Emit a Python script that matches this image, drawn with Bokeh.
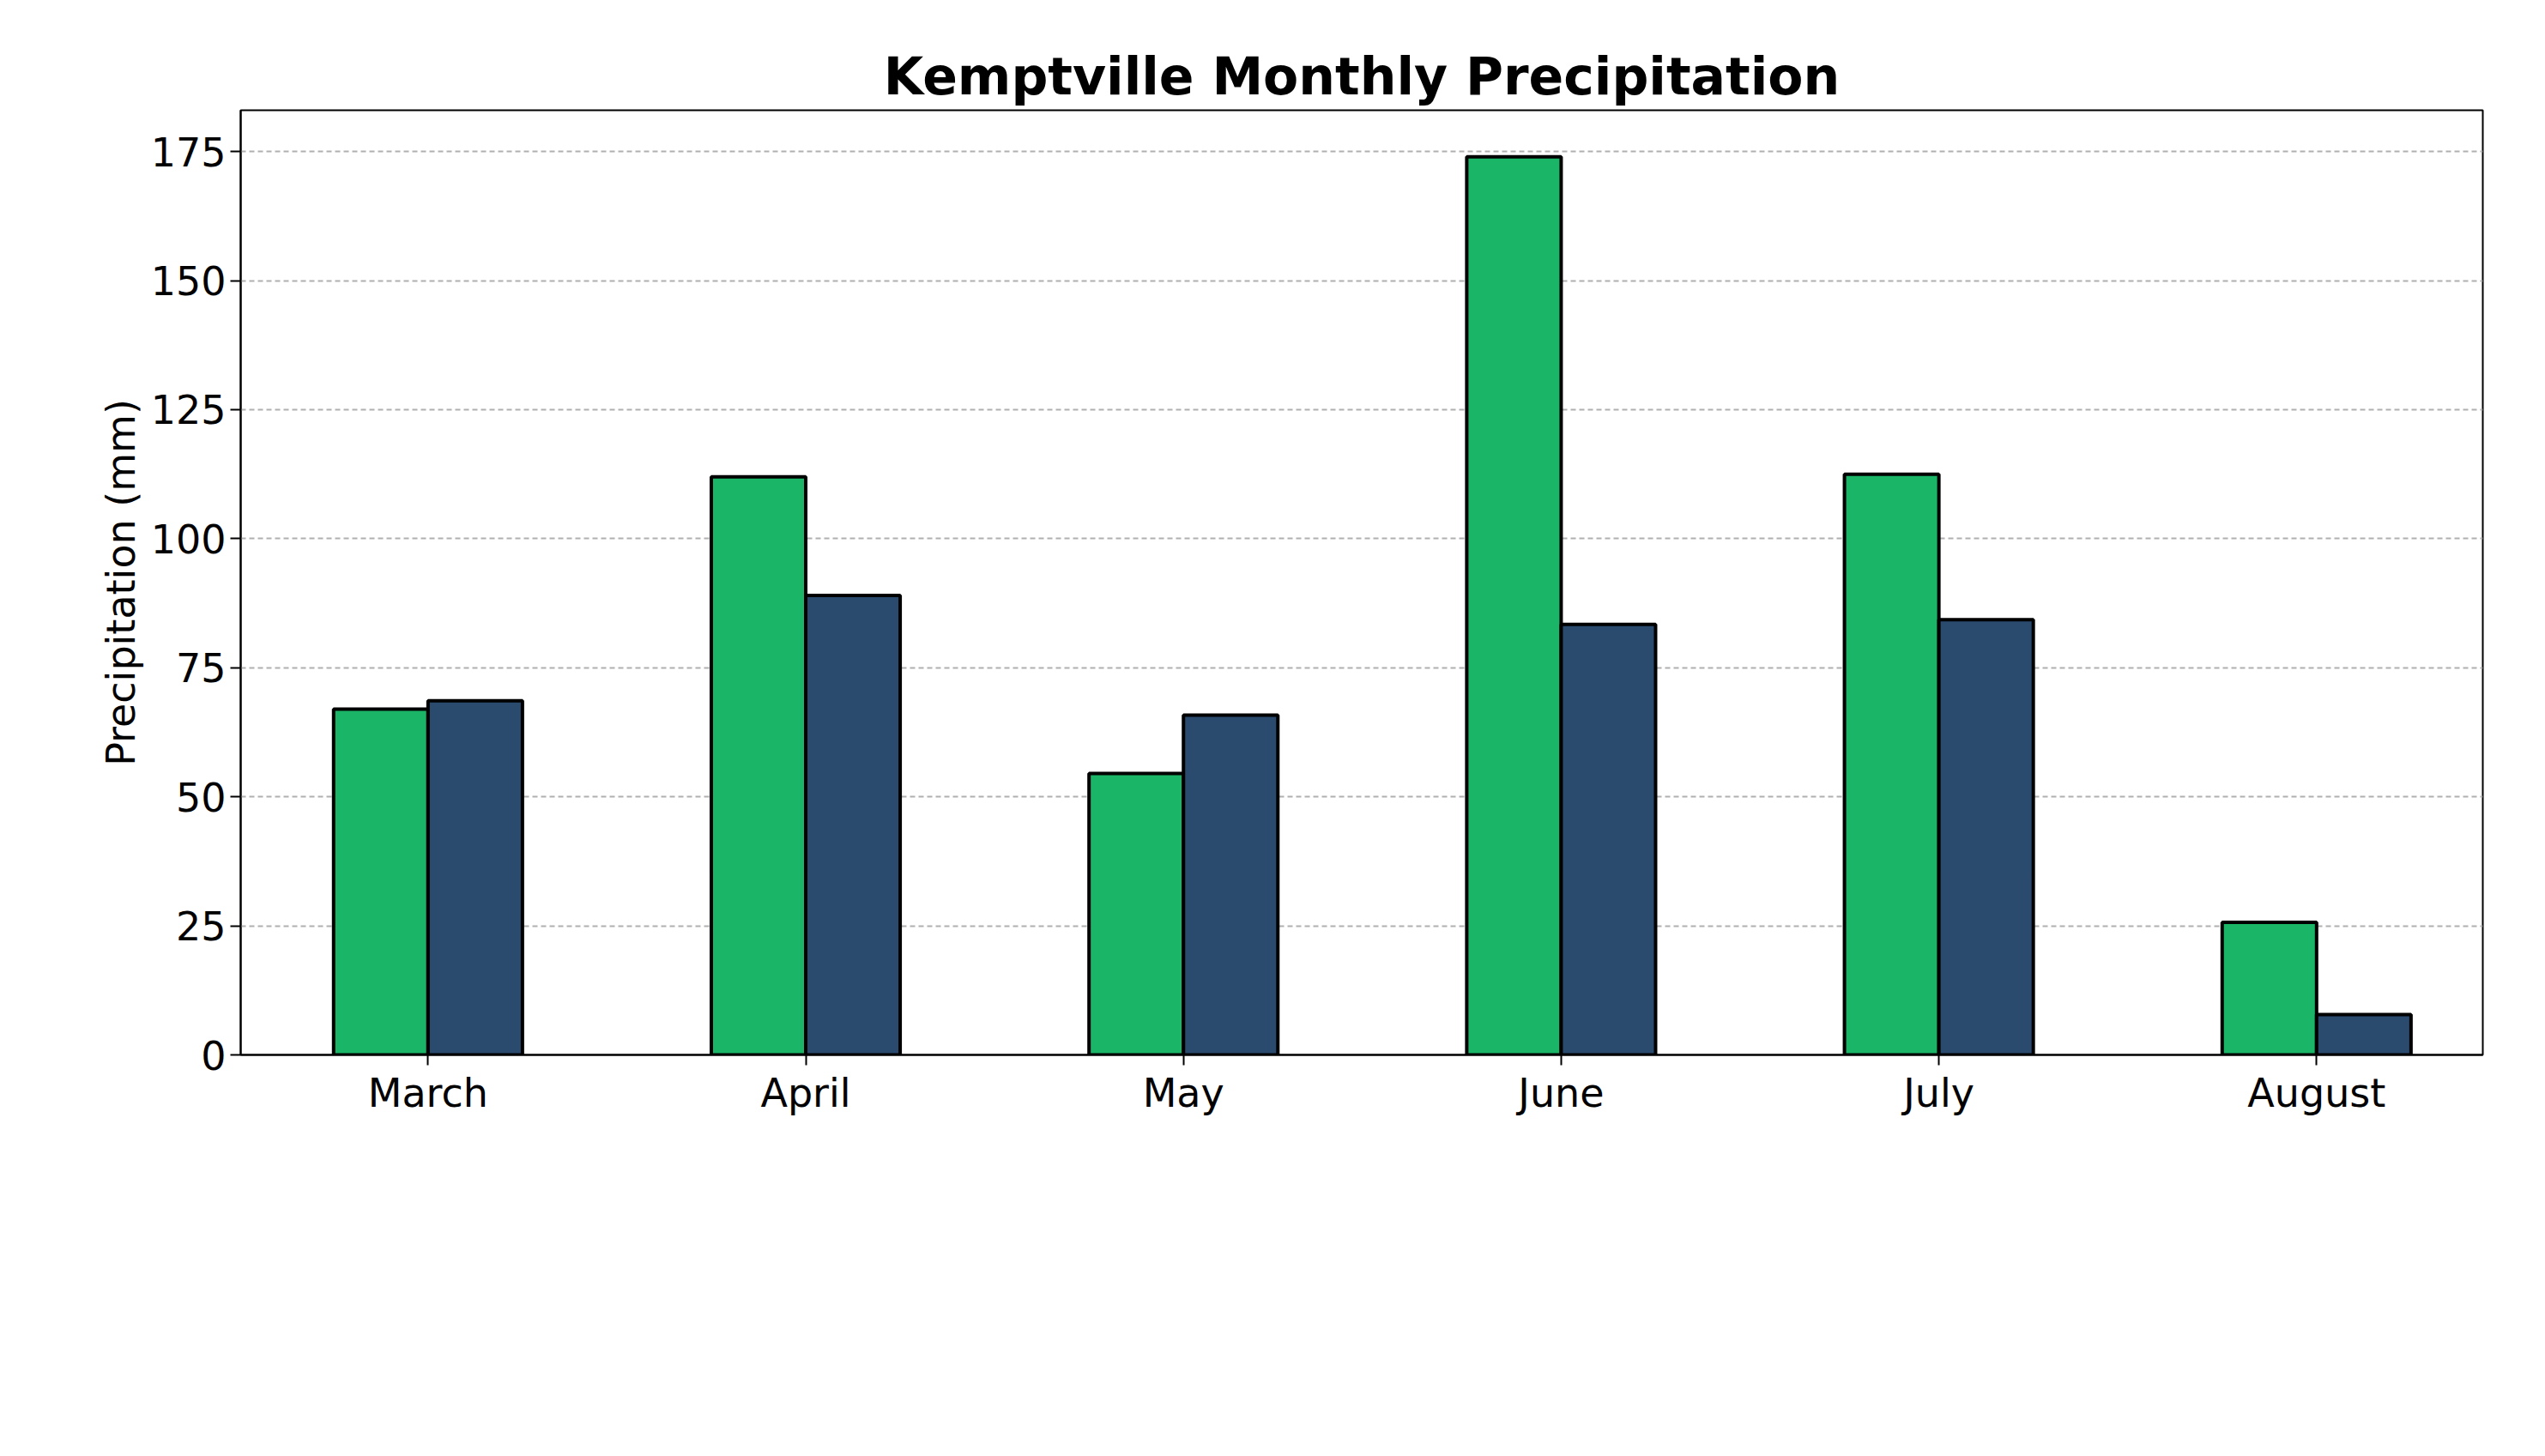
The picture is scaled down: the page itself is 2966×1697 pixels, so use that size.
from bokeh.plotting import figure
from bokeh.models import Range1d, FixedTicker, Legend, LegendItem, ColumnDataSource
from bokeh.embed import file_html
from bokeh.resources import INLINE

months = ["March", "April", "May", "June", "July", "August"]
y2026 = [67, 112, 54.5, 174, 112.5, 25.7]
avg10 = [68.6, 89, 65.8, 83.4, 84.3, 7.8]

idx = list(range(len(months)))
src = ColumnDataSource(dict(
    x1=[i - 0.125 for i in idx], x2=[i + 0.125 for i in idx], a=y2026, b=avg10))

p = figure(width=2950, height=1680, output_backend="svg", toolbar_location=None,
           x_range=Range1d(-0.496, 5.44), y_range=Range1d(0, 183),
           min_border_left=280, min_border_right=57, min_border_top=128,
           min_border_bottom=451)
p.title.text = "Kemptville Monthly Precipitation"
p.title.text_font = "DejaVu Sans"
p.title.text_font_size = "60px"
p.title.text_font_style = "bold"
p.title.text_color = "black"
p.title.align = "center"

r1 = p.vbar(x="x1", top="a", width=0.25, source=src, fill_color="#1ab566",
            line_color="black", line_width=4)
r2 = p.vbar(x="x2", top="b", width=0.25, source=src, fill_color="#2a4a6e",
            line_color="black", line_width=4)

p.xaxis.ticker = FixedTicker(ticks=idx)
p.xaxis.major_label_overrides = {i: m for i, m in enumerate(months)}
p.yaxis.ticker = FixedTicker(ticks=[0, 25, 50, 75, 100, 125, 150, 175])
for ax in (p.xaxis, p.yaxis):
    ax.major_label_text_font = "DejaVu Sans"
    ax.major_label_text_font_size = "46px"
    ax.major_label_text_color = "black"
    ax.axis_line_color = "black"
    ax.axis_line_width = 2
    ax.major_tick_line_width = 2
    ax.major_tick_out = 12
    ax.major_tick_in = 0
    ax.minor_tick_line_color = None
p.yaxis.axis_label = "Precipitation (mm)"
p.yaxis.axis_label_text_font = "DejaVu Sans"
p.yaxis.axis_label_text_font_size = "46px"
p.yaxis.axis_label_text_font_style = "normal"
p.yaxis.axis_label_text_color = "black"
p.xgrid.grid_line_color = None
p.ygrid.grid_line_color = "#b0b0b0"
p.ygrid.grid_line_dash = "6 4"
p.ygrid.grid_line_width = 2
p.outline_line_color = "black"
p.outline_line_width = 2

legend = Legend(items=[LegendItem(label="2026", renderers=[r1]),
                       LegendItem(label="10-Year Avg", renderers=[r2])],
                orientation="horizontal", location=(735, -434))
legend.label_text_font = "DejaVu Sans"
legend.label_text_font_size = "46px"
legend.label_text_color = "black"
legend.glyph_width = 140
legend.glyph_height = 48
legend.spacing = 80
legend.padding = 26
legend.border_line_color = "#cccccc"
legend.border_line_width = 3
p.add_layout(legend, "center")

open("out.html", "w").write(file_html(p, INLINE))
